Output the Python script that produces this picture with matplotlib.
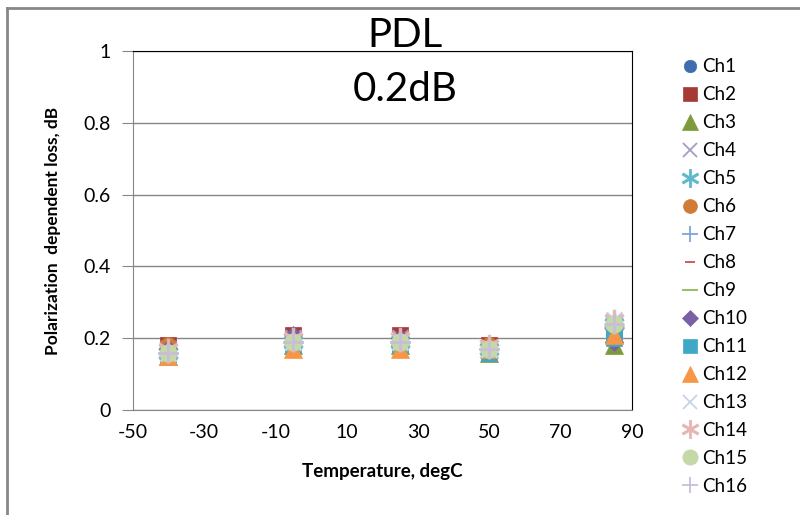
import matplotlib
matplotlib.use('Agg')
import matplotlib.pyplot as plt
from matplotlib.lines import Line2D

plt.rcParams['font.family'] = ['Lato', 'DejaVu Sans']
plt.rcParams['axes.unicode_minus'] = False

temps = [-40, -5, 25, 50, 85]

# PDL per channel, dB
ch1 = [0.16, 0.19, 0.19, 0.17, 0.20]
ch2 = [0.18, 0.21, 0.21, 0.18, 0.21]
ch3 = [0.15, 0.18, 0.18, 0.16, 0.18]
ch4 = [0.17, 0.20, 0.20, 0.17, 0.22]
ch5 = [0.16, 0.19, 0.19, 0.17, 0.24]
ch6 = [0.18, 0.20, 0.19, 0.18, 0.22]
ch7 = [0.16, 0.19, 0.19, 0.17, 0.23]
ch8 = [0.17, 0.20, 0.20, 0.17, 0.22]
ch9 = [0.16, 0.19, 0.18, 0.17, 0.19]
ch10 = [0.17, 0.21, 0.20, 0.17, 0.19]
ch11 = [0.15, 0.18, 0.18, 0.16, 0.20]
ch12 = [0.15, 0.17, 0.17, 0.17, 0.21]
ch13 = [0.16, 0.19, 0.19, 0.17, 0.25]
ch14 = [0.17, 0.20, 0.20, 0.18, 0.25]
ch15 = [0.16, 0.19, 0.19, 0.17, 0.24]
ch16 = [0.16, 0.19, 0.19, 0.17, 0.24]

channels = [ch1, ch2, ch3, ch4, ch5, ch6, ch7, ch8,
            ch9, ch10, ch11, ch12, ch13, ch14, ch15, ch16]
names = ['Ch%d' % (i + 1) for i in range(16)]

# marker, colour, size (excel-ish series styles)
styles = [
    ('o', '#3F6EAE', 9), ('s', '#A63B36', 10), ('^', '#7D9B3C', 11), ('x', '#A89BC4', 10),
    ('$\u2217$', '#5EB8CC', 13), ('o', '#D07C36', 10), ('+', '#7FA6D5', 12), ('_', '#C8504D', 7),
    ('_', '#92B956', 11), ('D', '#7B5FA4', 8), ('s', '#3FA8C6', 10), ('^', '#F79646', 11),
    ('x', '#C6D3EA', 10), ('$\u2217$', '#E6B5B3', 13), ('o', '#C5D9A7', 11), ('+', '#C8BED9', 12),
]

fig = plt.figure(figsize=(8, 5.15), dpi=100)
ax = fig.add_axes([0.166, 0.204, 0.624, 0.697])

for vals, name, (m, c, s) in zip(channels, names, styles):
    ax.plot(temps, vals, linestyle='none', marker=m, color=c, markersize=s * 1.15,
            markeredgewidth=2 if m in ('x', '+', '_') else 0.5, label=name)

ax.set_xlim(-50, 90)
ax.set_ylim(0, 1)
ax.set_xticks([-50, -30, -10, 10, 30, 50, 70, 90])
ax.set_yticks([0, 0.2, 0.4, 0.6, 0.8, 1])
ax.set_yticklabels(['0', '0.2', '0.4', '0.6', '0.8', '1'])
ax.yaxis.grid(True, color='#868686', linewidth=1)
ax.set_axisbelow(True)
for side in ('left', 'bottom'):
    ax.spines[side].set_color('#868686')
for side in ('top', 'right'):
    ax.spines[side].set_color('black')
ax.tick_params(axis='both', colors='#868686', labelcolor='black', labelsize=14, length=8, direction='out')
ax.tick_params(axis='x', length=0, pad=10)
ax.tick_params(axis='y', pad=8)

ax.set_xlabel('Temperature, degC', fontsize=13.5, fontweight='bold', labelpad=16)
ax.set_ylabel('Polarization  dependent loss, dB', fontsize=12.5, fontweight='bold', labelpad=16)

fig.text(0.506, 0.932, 'PDL', fontsize=29, ha='center', va='center')
fig.text(0.506, 0.826, '0.2dB', fontsize=29, ha='center', va='center')

handles, labels = ax.get_legend_handles_labels()
small = []
for (m, c, s) in styles:
    small.append(Line2D([], [], linestyle='none', marker=m, color=c, markersize=s,
                        markeredgewidth=1.3 if m in ('x', '+', '_') else 0.5))
fig.legend(small, labels, loc='upper left', bbox_to_anchor=(0.838, 0.912), frameon=False,
           fontsize=13.5, handlelength=0.7, handletextpad=0.3, labelspacing=0.585,
           borderpad=0.2)

# outer chart frame
fig.add_artist(Line2D([0.009, 0.009], [0, 0.985], color='#888888', linewidth=2, transform=fig.transFigure))
fig.add_artist(Line2D([0.009, 1], [0.985, 0.985], color='#888888', linewidth=2, transform=fig.transFigure))

fig.savefig('out.png', dpi=100)
